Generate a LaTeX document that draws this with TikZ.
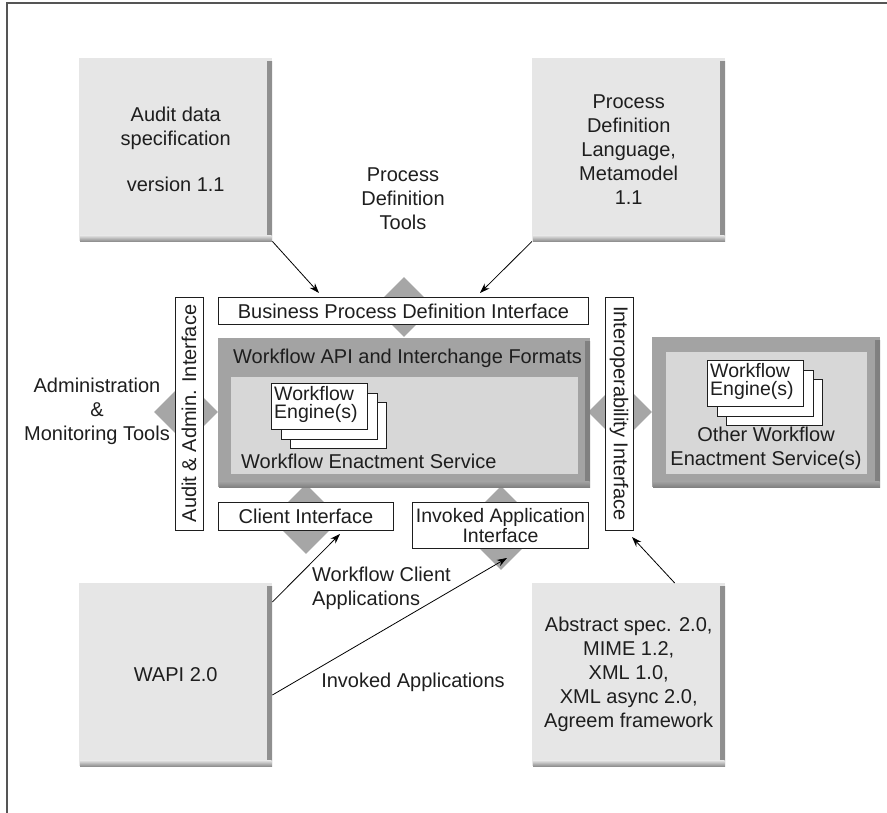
\documentclass[tikz,border=0pt]{standalone}
\usepackage{fontspec}
\setmainfont{Liberation Sans}
\usetikzlibrary{arrows.meta,shapes.geometric}
\definecolor{boxfill}{HTML}{E6E6E6}
\definecolor{shadowc}{HTML}{8E8E8E}
\definecolor{diafill}{HTML}{A6A6A6}
\definecolor{outerc}{HTML}{A3A3A3}
\definecolor{outershadow}{HTML}{808080}
\definecolor{innerc}{HTML}{D7D7D7}
\definecolor{txt}{HTML}{1E1E1E}
\definecolor{framec}{HTML}{555555}
\begin{document}
\begin{tikzpicture}[x=1pt,y=-1pt,
  font=\fontsize{20}{24}\selectfont, text=txt,
  shadowed/.style n args={2}{fill=#1, path picture={
    \shade[left color=#1, right color=#2]
      ([xshift=-5pt,yshift=-3pt]path picture bounding box.north east) rectangle (path picture bounding box.south east);
    \shade[top color=#1, bottom color=#2]
      ([xshift=1pt,yshift=6pt]path picture bounding box.south west) rectangle ([xshift=-0.5pt]path picture bounding box.south east);
  }},
  specbox/.style={shadowed={boxfill}{shadowc}, draw=none, anchor=north west, inner sep=0pt, align=center,
    minimum width=193pt, minimum height=183pt},
  outerbox/.style={shadowed={outerc}{outershadow}, draw=none, anchor=north west, inner sep=0pt},
  innerbox/.style={fill=innerc, draw=none, anchor=north west, inner sep=0pt},
  ifbox/.style={draw=txt, line width=0.9pt, fill=white, inner sep=0pt, align=center},
  engbox/.style={draw=txt, line width=0.9pt, fill=white, anchor=north west, inner sep=0pt,
    minimum width=96pt, minimum height=46pt, align=left, font=\fontsize{19.5}{18}\selectfont},
  dia/.style={shape=diamond, fill=diafill, draw=none, inner sep=0pt, aspect=1},
  lbl/.style={inner sep=0pt, align=center},
  arr/.style={-{Stealth[length=10pt,width=7pt]}, line width=0.8pt, black}
]
\useasboundingbox (0,0) rectangle (887,813);

% frame (top and left edges only)
\draw[framec, line width=2pt] (7,813) -- (7,3) -- (887,3);

% interface diamonds (behind)
\node[dia, minimum width=60pt, minimum height=60pt] (dtop) at (404,307) {};
\node[dia, minimum width=64pt, minimum height=64pt] (dleft) at (186,412) {};
\node[dia, minimum width=64pt, minimum height=64pt] (dright) at (620,412) {};
\node[dia, minimum width=70pt, minimum height=70pt] (dcli) at (306,519) {};
\node[dia, minimum width=84pt, minimum height=84pt] (dinv) at (501,528) {};

% specification boxes
\node[specbox] (audit) at (79,58) {Audit data\\specification\\[22pt]version 1.1};
\node[specbox] (pdl) at (532,58) {Process\\Definition\\Language,\\Metamodel\\1.1};
\node[specbox] (wapi) at (79,583) {WAPI 2.0};
\node[specbox] (abs) at (532,583) {Abstract spec. 2.0,\\MIME 1.2,\\XML 1.0,\\XML async 2.0,\\Agreem framework};

% workflow enactment service
\node[outerbox, minimum width=372pt, minimum height=149pt] (wfas) at (218,338) {};
\node[innerbox, minimum width=347pt, minimum height=97pt] (wfin) at (231,377) {};
\node[lbl, anchor=west] (apilbl) at (233,358) {Workflow API and Interchange Formats};
\node[engbox] (e3) at (290,402) {};
\node[engbox] (e2) at (280.5,392.5) {};
\node[engbox] (e1) at (271,383) {};
\node[lbl, anchor=north west, align=left, font=\fontsize{19.5}{18}\selectfont] (e1t) at (274,386) {Workflow\\Engine(s)};
\node[lbl, anchor=west] (wes) at (241,461) {Workflow Enactment Service};

% other workflow enactment service
\node[outerbox, minimum width=228pt, minimum height=150pt] (owfas) at (652,337) {};
\node[innerbox, minimum width=201pt, minimum height=122pt] (owfin) at (666,352) {};
\node[engbox] (oe3) at (726,379) {};
\node[engbox] (oe2) at (716.5,369.5) {};
\node[engbox] (oe1) at (707,360) {};
\node[lbl, anchor=north west, align=left, font=\fontsize{19.5}{18}\selectfont] (oe1t) at (710,363) {Workflow\\Engine(s)};
\node[lbl] (owes) at (766,448) {Other Workflow\\Enactment Service(s)};

% interfaces
\node[ifbox, anchor=north west, minimum width=370pt, minimum height=27pt] (bpd) at (218,297) {Business Process Definition Interface};
\node[ifbox, rotate=90, minimum width=233pt, minimum height=28pt] (aai) at (189,413.5) {Audit \& Admin. Interface};
\node[ifbox, rotate=-90, minimum width=233pt, minimum height=28pt] (ioi) at (619,413.5) {Interoperability Interface};
\node[ifbox, anchor=north west, minimum width=175pt, minimum height=28pt] (cli) at (218,502) {Client Interface};
\node[ifbox, anchor=north west, minimum width=176pt, minimum height=46pt, font=\fontsize{19.5}{17.5}\selectfont] (inv) at (412,502) {Invoked Application\\Interface};

% free labels
\node[lbl] (pdt) at (403,199) {Process\\Definition\\Tools};
\node[lbl] (amt) at (97,411) {Administration\\\&\\Monitoring Tools};
\node[lbl, anchor=west, align=left] (wca) at (312,588) {Workflow Client\\Applications};
\node[lbl] (ia) at (413,682) {Invoked Applications};

% arrows
\coordinate (t1) at (319,293);
\coordinate (t2) at (480,293);
\coordinate (t3) at (340,534);
\coordinate (t4) at (507,558);
\coordinate (t5) at (632,537);
\draw[arr] (audit.south east) -- (t1);
\draw[arr] (pdl.south west) -- (t2);
\draw[arr] ([yshift=-19pt]wapi.north east) -- (t3);
\draw[arr] ([yshift=-112pt]wapi.north east) -- (t4);
\draw[arr] ([xshift=46pt]abs.north) -- (t5);
\end{tikzpicture}
\end{document}
